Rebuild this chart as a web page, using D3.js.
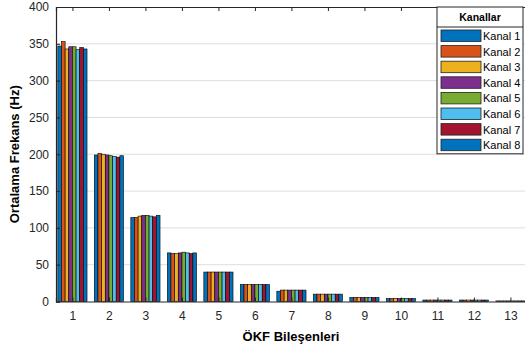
<!DOCTYPE html>
<html>
<head>
<meta charset="utf-8">
<script src="https://cdn.jsdelivr.net/npm/d3@7"></script>
<style>
  body { margin: 0; background: #fff; }
  svg { display: block; font-family: "Liberation Sans", Arial, sans-serif; }
</style>
</head>
<body>
<svg id="chart" width="525" height="350"></svg>
<script>
"use strict";

// Chart data
var components = [1, 2, 3, 4, 5, 6, 7, 8, 9, 10, 11, 12, 13];
var channelNames = ["Kanal 1", "Kanal 2", "Kanal 3", "Kanal 4", "Kanal 5", "Kanal 6", "Kanal 7", "Kanal 8"];
var kanal1 = [347, 199, 114, 66, 40, 23, 14, 10, 5.5, 4, 2, 2, 0.8];
var kanal2 = [353, 201, 114, 65, 40, 23, 15.5, 10, 5.5, 4, 2, 2, 0.8];
var kanal3 = [343, 200, 116, 65, 40, 23, 15.5, 10, 5.5, 4, 2, 2, 0.8];
var kanal4 = [346, 199, 117, 66, 40, 23, 15.5, 10, 5.5, 4, 2, 2, 0.8];
var kanal5 = [346, 198, 117, 67, 40, 23, 15.5, 10, 5.5, 4, 2, 2, 0.8];
var kanal6 = [342, 197, 116, 66, 40, 23, 15.5, 10, 5.5, 4, 2, 2, 0.8];
var kanal7 = [345, 196, 115, 65, 40, 23, 15.5, 10, 5.5, 4, 2, 2, 0.8];
var kanal8 = [343, 198, 117, 66, 40, 23, 15.5, 10, 5.5, 4, 2, 2, 0.8];
var yTicks = [0, 50, 100, 150, 200, 250, 300, 350, 400];

var series = [kanal1, kanal2, kanal3, kanal4, kanal5, kanal6, kanal7, kanal8];
var colors = ["#0072BD", "#D95319", "#EDB120", "#7E2F8E", "#77AC30", "#4DBEEE", "#A2142F", "#0072BD"];

// Plot geometry (right edge runs past the window, as in the figure)
var margin = { top: 7, left: 56, bottom: 301.5 },
	step = 36.5,
	xMin = 0.55,
	xMax = 13.5,
	axisColor = "#262626";

var svg = d3.select("#chart");

var x = d3.scaleLinear()
	.domain([xMin, xMax])
	.range([margin.left, margin.left + (xMax - xMin) * step]);

var y = d3.scaleLinear()
	.domain([0, 400])
	.range([margin.bottom, margin.top]);

var groupWidth = 0.8,
	barW = groupWidth / series.length;

// Grid lines
svg.append("g")
	.selectAll("line")
	.data(yTicks.slice(1, -1))
	.enter().append("line")
	.attr("x1", x(xMin))
	.attr("x2", x(xMax))
	.attr("y1", function (d) { return y(d); })
	.attr("y2", function (d) { return y(d); })
	.attr("stroke", "#dedede")
	.attr("stroke-width", 1);

// Bars
var barLayer = svg.append("g");
series.forEach(function (vals, s) {
	barLayer.append("g")
		.selectAll("rect")
		.data(vals)
		.enter().append("rect")
		.attr("x", function (d, i) { return x(components[i] - groupWidth / 2 + s * barW); })
		.attr("width", x(barW) - x(0))
		.attr("y", function (d) { return y(d); })
		.attr("height", function (d) { return y(0) - y(d); })
		.attr("fill", colors[s])
		.attr("stroke", "#000")
		.attr("stroke-width", 0.6);
});

// Axes (MATLAB style ticks inside)
var xAxis = d3.axisBottom(x)
	.tickValues(components)
	.tickSize(-4)
	.tickPadding(10)
	.tickFormat(d3.format("d"));

var yAxis = d3.axisLeft(y)
	.tickValues(yTicks)
	.tickSize(-4)
	.tickPadding(7);

var xTop = d3.axisTop(x)
	.tickValues(components)
	.tickSize(-4)
	.tickFormat("");

svg.append("g")
	.attr("class", "axis")
	.attr("transform", "translate(0," + margin.bottom + ")")
	.call(xAxis);

svg.append("g")
	.attr("class", "axis")
	.attr("transform", "translate(0," + margin.top + ")")
	.call(xTop);

svg.append("g")
	.attr("class", "axis")
	.attr("transform", "translate(" + margin.left + ",0)")
	.call(yAxis);

svg.selectAll(".axis path, .axis line")
	.attr("stroke", axisColor);
svg.selectAll(".axis .domain")
	.attr("stroke-width", 1.2);
svg.selectAll(".axis text")
	.attr("fill", axisColor)
	.style("font-size", "12px")
	.style("font-family", "'Liberation Sans', Arial, sans-serif");

// Axis labels
svg.append("text")
	.attr("x", 291)
	.attr("y", 341)
	.attr("text-anchor", "middle")
	.attr("font-weight", "bold")
	.attr("font-size", "13px")
	.attr("fill", "#000")
	.text("ÖKF Bileşenleri");

svg.append("text")
	.attr("transform", "translate(19," + ((margin.top + margin.bottom) / 2) + ") rotate(-90)")
	.attr("text-anchor", "middle")
	.attr("font-weight", "bold")
	.attr("font-size", "13px")
	.attr("fill", "#000")
	.text("Ortalama Frekans (Hz)");

// Legend
var lg = { x: 437, y: 7, w: 86, titleH: 20, rowH: 15.6 };
var legend = svg.append("g");

legend.append("rect")
	.attr("x", lg.x)
	.attr("y", lg.y)
	.attr("width", lg.w)
	.attr("height", lg.titleH + channelNames.length * lg.rowH + 2)
	.attr("fill", "#fff")
	.attr("stroke", axisColor)
	.attr("stroke-width", 1);

legend.append("line")
	.attr("x1", lg.x)
	.attr("x2", lg.x + lg.w)
	.attr("y1", lg.y + lg.titleH)
	.attr("y2", lg.y + lg.titleH)
	.attr("stroke", axisColor);

legend.append("text")
	.attr("x", lg.x + lg.w / 2)
	.attr("y", lg.y + 14)
	.attr("text-anchor", "middle")
	.attr("font-weight", "bold")
	.attr("font-size", "10.5px")
	.attr("fill", "#000")
	.text("Kanallar");

var rows = legend.selectAll(".row")
	.data(channelNames)
	.enter().append("g")
	.attr("class", "row")
	.attr("transform", function (d, i) {
		return "translate(" + lg.x + "," + (lg.y + lg.titleH + 1 + i * lg.rowH) + ")";
	});

rows.append("rect")
	.attr("x", 4)
	.attr("y", 2)
	.attr("width", 40)
	.attr("height", 11.5)
	.attr("fill", function (d, i) { return colors[i]; })
	.attr("stroke", "#222")
	.attr("stroke-width", 0.8);

rows.append("text")
	.attr("x", 46)
	.attr("y", 12)
	.attr("font-size", "11px")
	.attr("fill", "#000")
	.text(function (d) { return d; });
</script>
</body>
</html>
